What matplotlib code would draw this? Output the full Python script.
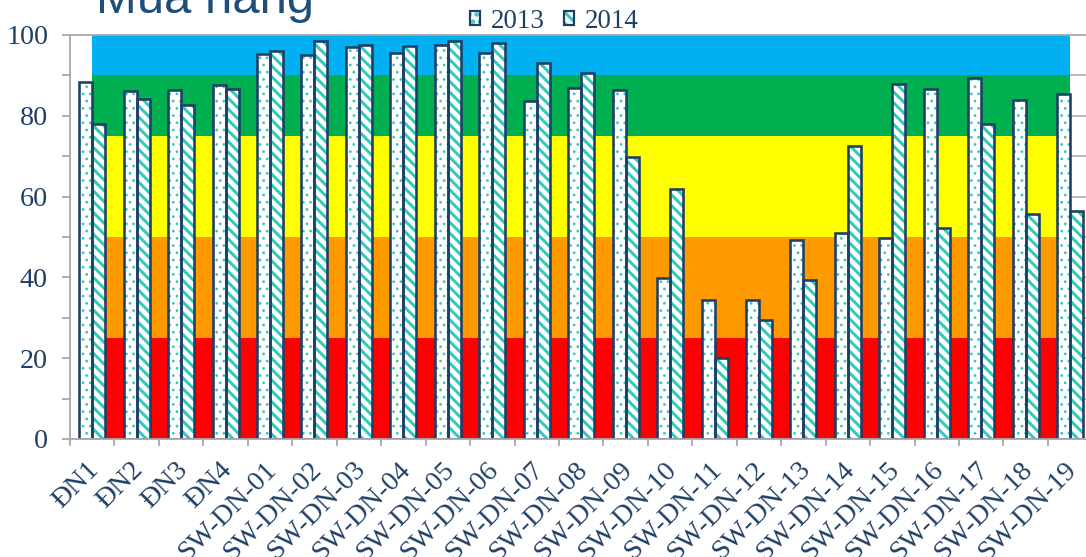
import matplotlib
matplotlib.use("Agg")
import matplotlib.pyplot as plt
from matplotlib.patches import Patch, Rectangle
from matplotlib.legend_handler import HandlerTuple
from matplotlib.ticker import MultipleLocator
from matplotlib.transforms import ScaledTranslation
import numpy as np

# ---- data -------------------------------------------------------------
categories = ['ĐN1', 'ĐN2', 'ĐN3', 'ĐN4',
              'SW-DN-01', 'SW-DN-02', 'SW-DN-03', 'SW-DN-04', 'SW-DN-05',
              'SW-DN-06', 'SW-DN-07', 'SW-DN-08', 'SW-DN-09', 'SW-DN-10',
              'SW-DN-11', 'SW-DN-12', 'SW-DN-13', 'SW-DN-14', 'SW-DN-15',
              'SW-DN-16', 'SW-DN-17', 'SW-DN-18', 'SW-DN-19']
v2013 = [88.3, 86.1, 86.5, 87.7, 95.2, 95.0, 97.0, 95.6, 97.6, 95.5, 83.6,
         87.0, 86.5, 39.9, 34.3, 34.5, 49.2, 51.1, 49.8, 86.6, 89.3, 84.0, 85.3]
v2014 = [78.0, 84.2, 82.7, 86.7, 96.1, 98.5, 97.6, 97.4, 98.5, 98.1, 93.0,
         90.5, 69.8, 61.9, 20.0, 29.5, 39.4, 72.5, 87.9, 52.2, 78.0, 55.8, 56.5]
series_labels = ['2013', '2014']
title = 'Mùa nắng'

# quality classes shown as background bands
band_edges = [0, 25, 50, 75, 90, 100]
band_colors = ['#FF0000', '#FF9900', '#FFFF00', '#00B050', '#00B0F0']

# ---- style ------------------------------------------------------------
DPI = 130
W, H = 1086, 557


def pt(px):
    """pixel size -> points at the output resolution"""
    return px * 72.0 / DPI


navy = '#1F3F66'
teal = '#33C9BC'
gray = '#A6A6AE'
serif = ['Liberation Serif', 'DejaVu Serif']
dots = '...'
stripes = '\\' * 4
label_px = 28
plt.rcParams['hatch.linewidth'] = pt(3.0)

fig = plt.figure(figsize=(W / DPI, H / DPI), dpi=DPI)
ax = fig.add_axes([70 / W, 118 / H, 1022.4 / W, 404 / H])

n = len(categories)
x = np.arange(n)
w = 0.2925

ax.set_xlim(-0.5, n - 0.5)
ax.set_ylim(0, 100)

# horizontal grid, visible only where no band covers it
for gy in range(10, 100, 10):
    ax.hlines(gy, -0.5, n - 0.5, color=gray, lw=pt(1.5), zorder=0.5)
ax.add_patch(Rectangle((-0.5, 0), 0.5, 100, facecolor='white',
                       edgecolor='none', zorder=0.8))
for lo, hi, c in zip(band_edges[:-1], band_edges[1:], band_colors):
    ax.add_patch(Rectangle((0, lo), n - 1, hi - lo, facecolor=c,
                           edgecolor='none', zorder=1))


def set_hatch_lw(patches, px):
    for p in patches:
        if hasattr(p, 'set_hatch_linewidth'):
            p.set_hatch_linewidth(pt(px))


# bars: hatched white fill, then a navy outline on top
b13 = ax.bar(x - w / 2, v2013, w, facecolor='white', edgecolor=teal,
             hatch=dots, linewidth=0, zorder=2)
set_hatch_lw(b13, 1.3)
ax.bar(x - w / 2, v2013, w, facecolor='none', edgecolor=navy,
       linewidth=pt(2.6), zorder=3)
b14 = ax.bar(x + w / 2, v2014, w, facecolor='white', edgecolor=teal,
             hatch=stripes, linewidth=0, zorder=2)
set_hatch_lw(b14, 3.0)
ax.bar(x + w / 2, v2014, w, facecolor='none', edgecolor=navy,
       linewidth=pt(2.6), zorder=3)

# axes styling
for side in ['left', 'bottom', 'top']:
    ax.spines[side].set_color(gray)
    ax.spines[side].set_linewidth(pt(1.8))
    ax.spines[side].set_zorder(4)
ax.spines['right'].set_visible(False)

ax.yaxis.set_major_locator(MultipleLocator(20))
ax.yaxis.set_minor_locator(MultipleLocator(10))
ax.tick_params(axis='y', which='both', direction='out', length=pt(8),
               width=pt(1.8), color=gray, pad=pt(14))
ax.tick_params(axis='y', which='major', labelsize=pt(label_px),
               labelcolor=navy)
for lab in ax.get_yticklabels():
    lab.set_family(serif)

# category boundaries carry the tick marks, centres carry the labels
ax.set_xticks(np.arange(-0.5, n, 1.0))
ax.set_xticklabels([])
ax.tick_params(axis='x', which='major', direction='out', length=pt(7),
               width=pt(1.8), color=gray)
ax.set_xticks(x, minor=True)
ax.tick_params(axis='x', which='minor', length=0, pad=pt(18))
ax.set_xticklabels(categories, minor=True, rotation=45, ha='right',
                   va='top', rotation_mode='anchor', fontsize=pt(label_px),
                   color=navy, family=serif)
shift = ScaledTranslation(-6 / DPI, 0, fig.dpi_scale_trans)
for lab in ax.get_xticklabels(minor=True):
    lab.set_transform(lab.get_transform() + shift)

# legend
h13 = (Patch(facecolor='white', edgecolor=teal, hatch=dots, linewidth=0),
       Patch(facecolor='none', edgecolor=navy, linewidth=pt(2.2)))
h14 = (Patch(facecolor='white', edgecolor=teal, hatch=stripes, linewidth=0),
       Patch(facecolor='none', edgecolor=navy, linewidth=pt(2.2)))
set_hatch_lw([h13[0]], 1.3)
set_hatch_lw([h14[0]], 3.0)
fig.legend([h13, h14], series_labels, loc='center',
           bbox_to_anchor=(554.5 / W, 1 - 21 / H), ncol=2,
           frameon=False, handler_map={tuple: HandlerTuple(ndivide=1)},
           handlelength=0.36, handleheight=0.45, handletextpad=0.4,
           columnspacing=0.72, borderpad=0,
           prop={'family': serif, 'size': pt(27)}, labelcolor=navy)

fig.text(96 / W, 1 - 13 / H, title, fontsize=pt(49),
         family=['Liberation Sans', 'DejaVu Sans'], color='#1F4E79',
         va='baseline', ha='left')

fig.savefig('out.png', dpi=DPI)
